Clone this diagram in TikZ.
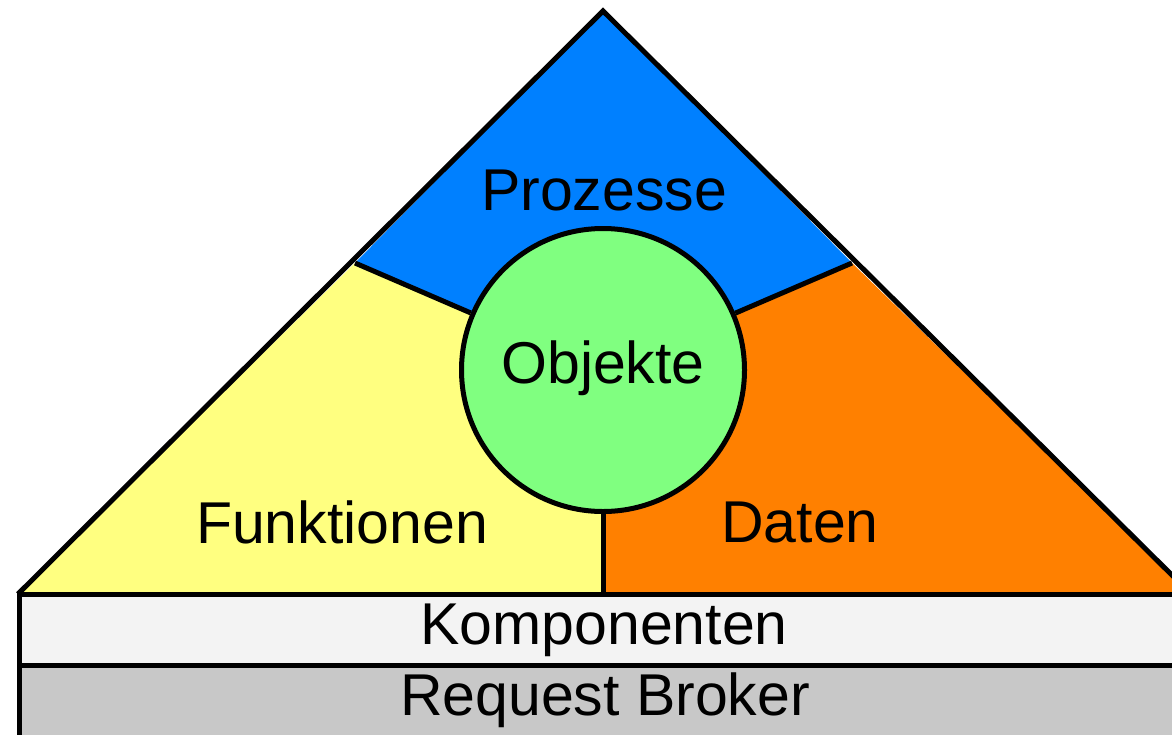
\documentclass[tikz,border=0pt]{standalone}
\usepackage{fontspec}
\setmainfont{Liberation Sans}
\definecolor{cblue}{HTML}{0080FF}
\definecolor{cyellow}{HTML}{FFFF80}
\definecolor{corange}{HTML}{FF8000}
\definecolor{cgreen}{HTML}{80FF80}
\definecolor{ckomp}{HTML}{F3F3F3}
\definecolor{cbroker}{HTML}{C8C8C8}
\tikzset{
  outline/.style={draw=black,line width=5pt},
  lbl/.style={font=\fontsize{59}{64}\selectfont,inner sep=0pt,anchor=center},
}
\begin{document}
\begin{tikzpicture}[x=1pt,y=-1pt]
\useasboundingbox (0,0) rectangle (1172,734);
\clip (0,0) rectangle (1172,734);
\coordinate (apex) at (603,11);
\coordinate (L) at (355,263);
\coordinate (R) at (852,263);
\coordinate (BL) at (18,594);
\coordinate (BR) at (1191,594);
\coordinate (BM) at (603,594);
\coordinate (C) at (603,370);
% regions
\fill[cblue] (apex) -- (R) -- (C) -- (L) -- cycle;
\fill[cyellow] (L) -- (C) -- (BM) -- (BL) -- cycle;
\fill[corange] (R) -- (BR) -- (BM) -- (C) -- cycle;
% triangle outline
\draw[outline] (BL) -- (apex) -- (BR);
% circle
\node[circle,outline,fill=cgreen,minimum size=283pt,inner sep=0pt] (obj) at (C) {};
\draw[outline] (L) -- (obj);
\draw[outline] (R) -- (obj);
\draw[outline] (obj) -- (BM);
% bars
\draw[outline,fill=ckomp] (19,594) rectangle (1200,665);
\draw[outline,fill=cbroker] (19,665) rectangle (1200,770);
% labels
\node[lbl] (proz) at (604,190) {Prozesse};
\node[lbl] (objt) at (603,368) {Objekte};
\node[lbl] (funk) at (342,522) {Funktionen};
\node[lbl] (dat) at (800,522) {Daten};
\node[lbl] (komp) at (604,630) {Komponenten};
\node[lbl] (req) at (605,700) {Request Broker};
\end{tikzpicture}
\end{document}
